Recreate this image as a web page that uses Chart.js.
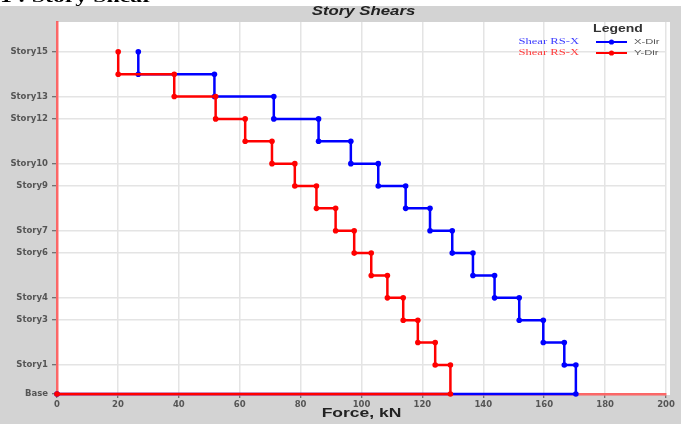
<!DOCTYPE html>
<html>
<head>
<meta charset="utf-8">
<script src="https://cdn.jsdelivr.net/npm/chart.js@4/dist/chart.umd.min.js"></script>
<style>
  html, body { margin: 0; padding: 0; background: #ffffff; }
  #wrap { width: 681px; height: 424px; position: relative; }
</style>
</head>
<body>
<div id="wrap"><canvas id="chart" width="681" height="424"></canvas></div>
<script>
// Story levels, top to bottom (elevation in m)
const storyNames = ['Story15','Story14','Story13','Story12','Story11','Story10','Story9','Story8',
                    'Story7','Story6','Story5','Story4','Story3','Story2','Story1','Base'];
const storyElevations = [45.9, 42.9, 39.9, 36.9, 33.9, 30.9, 27.9, 24.9,
                         21.9, 18.9, 15.9, 12.9, 9.9, 6.9, 3.9, 0];

// Story shear per level, Story15 down to Story1 (kN)
const shearXDir = [26.7, 51.7, 71.2, 85.9, 96.5, 105.5, 114.5, 122.5,
                   129.8, 136.6, 143.7, 151.8, 159.7, 166.6, 170.4];
const shearYDir = [20.1, 38.5, 52.1, 61.8, 70.6, 78.1, 85.2, 91.5,
                   97.6, 103.2, 108.5, 113.7, 118.5, 124.2, 129.2];

// Labelled story ticks on the vertical axis
const shownStories = ['Story15','Story13','Story12','Story10','Story9','Story7',
                      'Story6','Story4','Story3','Story1','Base'];

// Force axis ticks (kN)
const forceMin = 0, forceMax = 200, forceStep = 20;

const seriesNames = ['Shear RS-X', 'Shear RS-X'];
const seriesDirs = ['X-Dir', 'Y-Dir'];
const seriesColors = ['#0000ff', '#ff0000'];

// Each story's shear holds constant over its height: step from the level above to the level below
function stepPoints(values) {
  const pts = [];
  for (let i = 0; i < values.length; i++) {
    pts.push({ x: values[i], y: storyElevations[i] });
    pts.push({ x: values[i], y: storyElevations[i + 1] });
  }
  pts.push({ x: 0, y: storyElevations[storyElevations.length - 1] });
  return pts;
}

function stretchedText(ctx, text, x, y, font, color, align, sx) {
  ctx.save();
  ctx.translate(x, y);
  ctx.scale(sx, 1);
  ctx.font = font;
  ctx.fillStyle = color;
  ctx.textAlign = align;
  ctx.textBaseline = 'middle';
  ctx.fillText(text, 0, 0);
  ctx.restore();
}

const frame = {
  id: 'frame',
  beforeDraw(chart) {
    const { ctx, chartArea: a, width, height } = chart;
    ctx.save();
    ctx.fillStyle = '#d3d3d3';
    ctx.fillRect(0, 0, width, height);
    ctx.fillStyle = '#ffffff';
    ctx.fillRect(0, 0, width, 6);
    ctx.fillRect(a.left, a.top, a.right - a.left + 4, a.bottom - a.top + 1);
    ctx.restore();
  },
  afterDraw(chart) {
    const { ctx, chartArea: a } = chart;
    // caption line above the figure
    ctx.save();
    ctx.beginPath();
    ctx.rect(0, 0, chart.width, 6);
    ctx.clip();
    ctx.font = 'bold 17px "Liberation Serif"';
    ctx.fillStyle = '#000000';
    ctx.textAlign = 'left';
    ctx.textBaseline = 'alphabetic';
    ctx.translate(0, 2);
    ctx.scale(1.4, 1);
    ctx.fillText('1 : Story Shear', 0, 0);
    ctx.restore();

    // chart title
    stretchedText(ctx, 'Story Shears', (a.left + a.right + 4) / 2, 12,
      'italic bold 12px Arial, "Liberation Sans"', '#222222', 'center', 1.4);

    // axis title
    stretchedText(ctx, 'Force, kN', (a.left + a.right) / 2, 414,
      'bold 12.5px Arial, "Liberation Sans"', '#222222', 'center', 1.4);

    // legend
    const lx = a.right - 70;
    stretchedText(ctx, 'Legend', lx + 22, 29, 'bold 10px Arial, "Liberation Sans"', '#333333', 'center', 1.4);
    const rows = [42, 53];
    for (let i = 0; i < 2; i++) {
      const y = rows[i];
      const labelColor = i === 0 ? '#3c3cff' : '#ff3c3c';
      stretchedText(ctx, seriesNames[i], lx - 17, y, '9px "Liberation Serif"', labelColor, 'right', 1.4);
      ctx.save();
      ctx.strokeStyle = seriesColors[i];
      ctx.lineWidth = 2;
      ctx.beginPath();
      ctx.moveTo(lx, y);
      ctx.lineTo(lx + 31, y);
      ctx.stroke();
      ctx.fillStyle = seriesColors[i];
      ctx.beginPath();
      ctx.arc(lx + 15.5, y, 2.6, 0, Math.PI * 2);
      ctx.fill();
      ctx.restore();
      stretchedText(ctx, seriesDirs[i], lx + 38, y, '8px Arial, "Liberation Sans"', '#555555', 'left', 1.4);
    }
  }
};

const tickFont = { family: '"DejaVu Sans"', size: 8.5, weight: 'bold' };

new Chart(document.getElementById('chart'), {
  type: 'line',
  data: {
    datasets: [
      {
        label: seriesDirs[1],
        data: stepPoints(shearYDir),
        order: 0,
        borderColor: seriesColors[1],
        backgroundColor: seriesColors[1],
        borderWidth: 2.5,
        pointRadius: 2.8,
        pointBorderWidth: 0,
        pointHoverRadius: 2.8,
        tension: 0,
        clip: 5
      },
      {
        label: seriesDirs[0],
        data: stepPoints(shearXDir),
        order: 1,
        borderColor: seriesColors[0],
        backgroundColor: seriesColors[0],
        borderWidth: 2.5,
        pointRadius: 2.8,
        pointBorderWidth: 0,
        pointHoverRadius: 2.8,
        tension: 0,
        clip: 5
      }
    ]
  },
  options: {
    responsive: false,
    animation: false,
    events: [],
    layout: { padding: { top: 22, right: 15, bottom: 0, left: 0 } },
    plugins: {
      legend: { display: false },
      title: { display: false },
      tooltip: { enabled: false }
    },
    scales: {
      x: {
        type: 'linear',
        min: forceMin,
        max: forceMax,
        afterFit(scale) { scale.height = 30; },
        ticks: { stepSize: forceStep, font: tickFont, color: '#555555', padding: 2, maxRotation: 0 },
        grid: { color: '#e4e4e4', lineWidth: 1.5, tickLength: 4, tickColor: '#555555', tickWidth: 1 },
        border: { color: 'rgba(255,70,70,0.8)', width: 2.5 }
      },
      y: {
        type: 'linear',
        min: 0,
        max: 49.9,
        afterFit(scale) { scale.width = 57; },
        afterBuildTicks(scale) {
          scale.ticks = shownStories.map(n => ({ value: storyElevations[storyNames.indexOf(n)] }));
        },
        ticks: {
          autoSkip: false,
          font: tickFont,
          color: '#555555',
          padding: 4,
          callback(value) {
            const i = storyElevations.indexOf(value);
            return i >= 0 ? storyNames[i] : '';
          }
        },
        grid: { color: '#e4e4e4', lineWidth: 1.5, tickLength: 5, tickColor: '#555555', tickWidth: 1 },
        border: { color: 'rgba(255,70,70,0.8)', width: 2.5 }
      }
    }
  },
  plugins: [frame]
});
</script>
</body>
</html>
